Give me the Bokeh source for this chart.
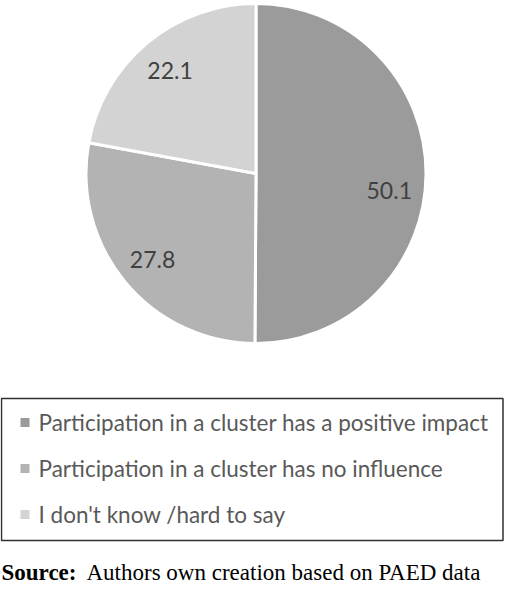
import math
from bokeh.plotting import figure
from bokeh.models import Range1d, ColumnDataSource
from bokeh.core.properties import value
from bokeh.embed import file_html
from bokeh.resources import INLINE

# ---- data ----
categories = [
    "Participation in a cluster has a positive impact",
    "Participation in a cluster has no influence",
    "I don't know /hard to say",
]
shares = [50.1, 27.8, 22.1]
value_labels = ["50.1", "27.8", "22.1"]
source_bold = "Source:"
source_rest = "Authors own creation based on PAED data"

# ---- style ----
colors = ["#9b9b9b", "#b3b3b3", "#d3d3d3"]
label_nudge_deg = [-7.0, 0.0, 0.0]
W, H = 504, 586
CX, CY, R = 255.5, 586 - 173.0, 170.0
FONT = "Lato"

p = figure(width=W, height=H, output_backend="svg", toolbar_location=None,
           x_range=Range1d(0, W), y_range=Range1d(0, H), min_border=0)
p.axis.visible = False
p.grid.visible = False
p.outline_line_color = None
p.background_fill_color = "white"

total = sum(shares)
starts, ends, mids = [], [], []
cum = 0.0
for s in shares:
    a0 = 90 - cum / total * 360
    cum += s
    a1 = 90 - cum / total * 360
    starts.append(math.radians(a0))
    ends.append(math.radians(a1))
    mids.append((a0 + a1) / 2)

src = ColumnDataSource(dict(start=starts, end=ends, color=colors))
p.wedge(x=CX, y=CY, radius=R, start_angle="start", end_angle="end",
        direction="clock", fill_color="color", line_color="white",
        line_width=3, source=src)

lr = 0.79 * R
lx = [CX + lr * math.cos(math.radians(m + n)) for m, n in zip(mids, label_nudge_deg)]
ly = [CY + lr * math.sin(math.radians(m + n)) for m, n in zip(mids, label_nudge_deg)]
p.text(x=lx, y=ly, text=value_labels, text_align="center", text_baseline="middle",
       text_font=value(FONT), text_font_size="23px", text_color="#404040")

# legend box
p.quad(left=1, right=502.5, bottom=46, top=188, fill_color=None,
       line_color="#303030", line_width=1.5)
item_y = [164 - 46 * i for i in range(len(categories))]
p.scatter(x=[24.5] * len(categories), y=item_y, marker="square", size=9,
          fill_color=colors, line_color=None)
p.text(x=[38] * len(categories), y=item_y, text=categories, text_align="left",
       text_baseline="middle", text_font=value(FONT), text_font_size="22.5px",
       text_color="#595959")

# source line
p.text(x=[1], y=[14], text=[source_bold], text_align="left", text_baseline="middle",
       text_font=value("Liberation Serif"), text_font_size="23px",
       text_font_style="bold", text_color="#000000")
p.text(x=[86], y=[14], text=[source_rest], text_align="left", text_baseline="middle",
       text_font=value("Liberation Serif"), text_font_size="23px",
       text_color="#000000")

open("out.html", "w").write(file_html(p, INLINE))
